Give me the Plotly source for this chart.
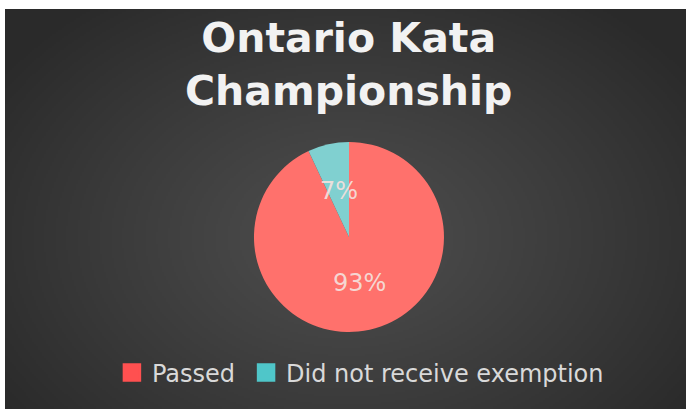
import math, zlib, struct, base64
import numpy as np
import plotly.graph_objects as go

# ---- data ----
labels = ["Passed", "Did not receive exemption"]
values = [93, 7]
slice_colors = ["#FF716C", "#80D0D0"]
legend_colors = ["#FF5050", "#4FC6C9"]
title_text = "Ontario Kata<br>Championship"

# ---- background radial gradient as PNG ----
def png_uri(arr):
    h, w, _ = arr.shape
    raw = b"".join(b"\x00" + arr[i].tobytes() for i in range(h))
    def chunk(t, d):
        c = struct.pack(">I", len(d)) + t + d
        return c + struct.pack(">I", zlib.crc32(t + d) & 0xffffffff)
    png = b"\x89PNG\r\n\x1a\n" + chunk(b"IHDR", struct.pack(">IIBBBBB", w, h, 8, 2, 0, 0, 0)) \
        + chunk(b"IDAT", zlib.compress(raw, 9)) + chunk(b"IEND", b"")
    return "data:image/png;base64," + base64.b64encode(png).decode()

W, H = 340, 200
yy, xx = np.mgrid[0:H, 0:W]
d = np.sqrt(((xx / W - 0.5) / 0.62) ** 2 + ((yy / H - 0.57) / 0.75) ** 2)
d = np.clip(d, 0, 1)
g = (78 - (78 - 42) * d ** 1.1).astype(np.uint8)
bg = np.stack([g, g, g], axis=-1)

fig = go.Figure()

xc, yc = 0.5051, 0.43
fig.add_trace(go.Pie(
    labels=labels, values=values, sort=False, direction="clockwise", rotation=0,
    marker=dict(colors=slice_colors, line=dict(width=0)),
    textinfo="none", showlegend=False, hoverinfo="label+percent",
    domain=dict(x=[xc - 0.2, xc + 0.2], y=[yc - 0.2375, yc + 0.2375]),
))

legend_names = ["legend", "legend2"]
for name, col, lg in zip(labels, legend_colors, legend_names):
    fig.add_trace(go.Scatter(x=[None], y=[None], mode="markers", name=name, legend=lg,
                             marker=dict(symbol="square", size=16, color=col,
                                         line=dict(width=2.5, color=col))))

# slice labels positioned from data
rx, ry = 95 / 681, 95 / 400
total = sum(values)
cum = 0
for v in values:
    mid = (cum + v / 2) / total
    cum += v
    th = 2 * math.pi * mid
    fig.add_annotation(x=xc + 0.5 * rx * math.sin(th), y=yc + 0.5 * ry * math.cos(th),
                       xref="paper", yref="paper", xanchor="center", yanchor="middle",
                       showarrow=False, text=f"{round(100 * v / total)}%",
                       font=dict(family="DejaVu Sans", size=24, color="rgba(245,225,222,0.92)"))

fig.add_annotation(x=0.505, y=1 - 3 / 400, xref="paper", yref="paper", xanchor="center", yanchor="top",
                   showarrow=False, text=title_text,
                   font=dict(family="DejaVu Sans", size=41, color="#F2F2F2", weight="bold"))

fig.add_layout_image(source=png_uri(bg), xref="paper", yref="paper", x=0, y=1,
                     sizex=1, sizey=1, sizing="stretch", layer="below", xanchor="left", yanchor="top")

leg_style = dict(orientation="h", xanchor="left", y=0.09, yanchor="middle",
                 font=dict(family="DejaVu Sans", size=24, color="#D9D9D9"),
                 bgcolor="rgba(0,0,0,0)")
fig.update_layout(
    width=686, height=409,
    margin=dict(l=5, r=0, t=9, b=0),
    paper_bgcolor="#FFFFFF", plot_bgcolor="rgba(0,0,0,0)",
    xaxis=dict(visible=False), yaxis=dict(visible=False),
    legend=dict(x=0.157, **leg_style),
    legend2=dict(x=0.354, **leg_style),
)

fig.write_html("out.html", config={"displayModeBar": False},
               post_script="document.body.style.margin='0';document.body.style.overflow='hidden';")
